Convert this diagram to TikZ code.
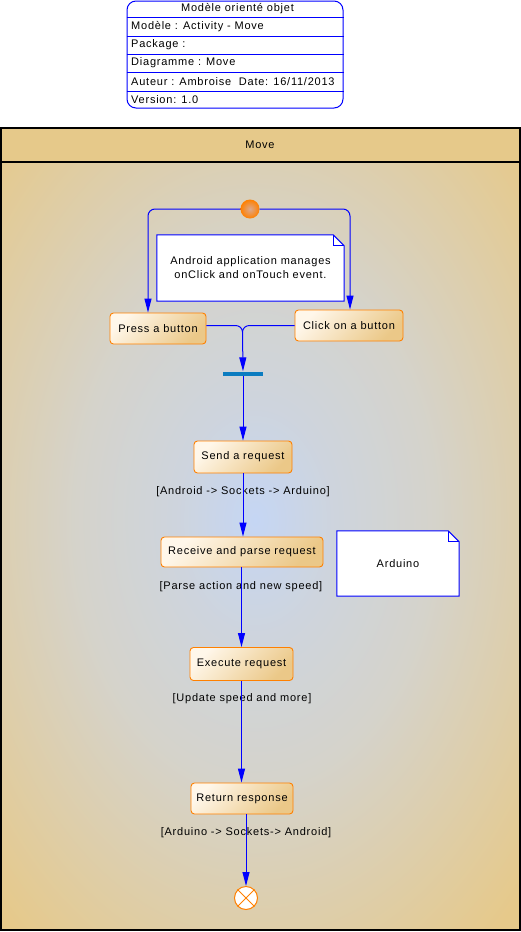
\documentclass[tikz,border=0pt]{standalone}
\usepackage{fontspec}
\setmainfont{Liberation Sans}[LetterSpace=7]
\usetikzlibrary{arrows.meta,calc}
\definecolor{lanetan}{HTML}{E6C98A}
\definecolor{lanegray}{HTML}{D5D3CB}
\definecolor{laneblue}{HTML}{C5D6F4}
\colorlet{lanemid}{lanegray!55!laneblue}
\definecolor{actorange}{HTML}{FF8000}
\definecolor{flowblue}{HTML}{0000FF}
\definecolor{barblue}{HTML}{0B7CC0}
\definecolor{boxlight}{HTML}{FFF7EA}
\definecolor{boxdark}{HTML}{EBC888}
\definecolor{startin}{HTML}{DCA98E}
\pgfdeclareradialshading{laneshade}{\pgfpoint{0bp}{0bp}}{color(0bp)=(laneblue); color(7bp)=(lanemid); color(16bp)=(lanegray); color(33bp)=(lanetan); color(50bp)=(lanetan)}
\pgfdeclarelayer{lanebg}
\pgfdeclarelayer{notebg}
\pgfsetlayers{lanebg,notebg,main}
\begin{document}
\begin{tikzpicture}[x=1pt,y=-1pt,
  font=\fontsize{11}{14}\selectfont,
  act/.style={draw=actorange, line width=0.9pt, rounded corners=3.5pt,
    top color=boxlight, bottom color=boxdark, shading angle=45,
    text=black, inner sep=0pt},
  flow/.style={draw=flowblue, line width=1pt, -{Triangle[length=14pt,width=7pt]}},
  plainflow/.style={draw=flowblue, line width=1pt},
  guard/.style={text=black, inner sep=0pt},
  notebox/.style={inner sep=0pt, align=center, text=black},
  notebord/.style={draw=flowblue, line width=1pt, fill=white},
  rowtext/.style={anchor=west, inner sep=0pt, text=black}]
\useasboundingbox (0,0) rectangle (521,932);

% ---- title block ----
\node[draw=flowblue, line width=1pt, rounded corners=9pt, fill=white,
  minimum width=216pt, minimum height=107pt, inner sep=0pt] (tb) at (235,54.5) {};
\foreach \yy in {17,36,54,72,91}
  \draw[flowblue, line width=1pt] (tb.west |- 0,\yy) -- (tb.east |- 0,\yy);
\node[inner sep=0pt, text=black] (tt) at (237.5,8.5) {Modèle orienté objet};
\node[rowtext] (r1) at (131,26.5) {Modèle : Activity - Move};
\node[rowtext] (r2) at (131,45) {Package :};
\node[rowtext] (r3) at (131,63) {Diagramme : Move};
\node[rowtext] (r4) at (131,81.5) {Auteur : Ambroise\ \ Date: 16/11/2013};
\node[rowtext] (r5) at (131,99.5) {Version: 1.0};

% ---- swimlane ----
\begin{pgfonlayer}{lanebg}
  \fill[lanetan] (1,128) rectangle (520,930);
  \begin{scope}
    \clip (1,162) rectangle (520,930);
    \shade[shading=laneshade] (-25,110) rectangle (535,930);
  \end{scope}
  \draw[black, line width=1.3pt] (1,128) rectangle (520,930);
  \draw[black, line width=1.3pt] (1,162) -- (520,162);
\end{pgfonlayer}
\node[inner sep=0pt, text=black] (lanetitle) at (260,145) {Move};

% ---- notes ----
\node[notebox, minimum width=187pt, minimum height=66pt] (n1) at (250.5,268)
  {Android application manages\\onClick and onTouch event.};
\node[notebox, minimum width=122pt, minimum height=65pt] (n2) at (398,563.5) {Arduino};
\begin{pgfonlayer}{notebg}
  \foreach \nn in {n1,n2}{
    \draw[notebord] (\nn.south west) -- (\nn.north west) -- ([xshift=-11pt]\nn.north east)
      -- ([yshift=-11pt]\nn.north east) -- (\nn.south east) -- cycle;
    \draw[notebord, fill=none] ([xshift=-11pt]\nn.north east)
      -- ([xshift=-11pt,yshift=-11pt]\nn.north east) -- ([yshift=-11pt]\nn.north east);
  }
\end{pgfonlayer}

% ---- activity nodes ----
\node[circle, minimum size=19pt, inner sep=0pt, inner color=startin, outer color=actorange] (start) at (250,209) {};
\node[act, minimum width=96pt, minimum height=31pt] (press) at (158,328.5) {Press a button};
\node[act, minimum width=108pt, minimum height=31pt] (click) at (349,325.5) {Click on a button};
\node[fill=barblue, minimum width=40pt, minimum height=4pt, inner sep=0pt] (bar) at (243,373.5) {};
\node[act, minimum width=98pt, minimum height=32pt] (send) at (243,457) {Send a request};
\node[act, minimum width=162pt, minimum height=30pt] (receive) at (242,552) {Receive and parse request};
\node[act, minimum width=103pt, minimum height=33pt] (execute) at (241.5,664) {Execute request};
\node[act, minimum width=102pt, minimum height=31pt] (return) at (242,798.5) {Return response};
\node[circle, draw=actorange, line width=1pt, fill=white, minimum size=23pt, inner sep=0pt] (end) at (246,898) {};
\draw[actorange, line width=0.8pt] (end.north west) -- (end.south east) (end.north east) -- (end.south west);

% ---- guards ----
\node[guard] (g1) at (243,492) {[Android -> Sockets -> Arduino]};
\node[guard] (g2) at (241,587) {[Parse action and new speed]};
\node[guard] (g3) at (242,699) {[Update speed and more]};
\node[guard] (g4) at (246,833) {[Arduino -> Sockets-> Android]};

% ---- connectors ----
\coordinate (lx) at (148,0);
\draw[flow, rounded corners=7pt] (start.west) -| (lx |- press.north);
\draw[flow, rounded corners=7pt] (start.east) -| ([xshift=1pt]click.north);
\coordinate (mrg) at (242.5,332);
\coordinate (mtop) at (242.5,325.5);
\draw[plainflow] (press.east |- mtop) -- ([xshift=-7pt]mtop) to[out=0,in=90] (mrg);
\draw[plainflow] (click.west |- mtop) -- ([xshift=7pt]mtop) to[out=180,in=90] (mrg);
\draw[flow] (mrg) -- (bar.north);
\draw[flow] (bar.south) -- (send.north);
\draw[flow] (send.south) -- (send.south |- receive.north);
\draw[flow] (receive.south -| execute.north) -- (execute.north);
\draw[flow] (execute.south) -- (execute.south |- return.north);
\draw[flow] (return.south -| end) -- (end.north);
\end{tikzpicture}
\end{document}
